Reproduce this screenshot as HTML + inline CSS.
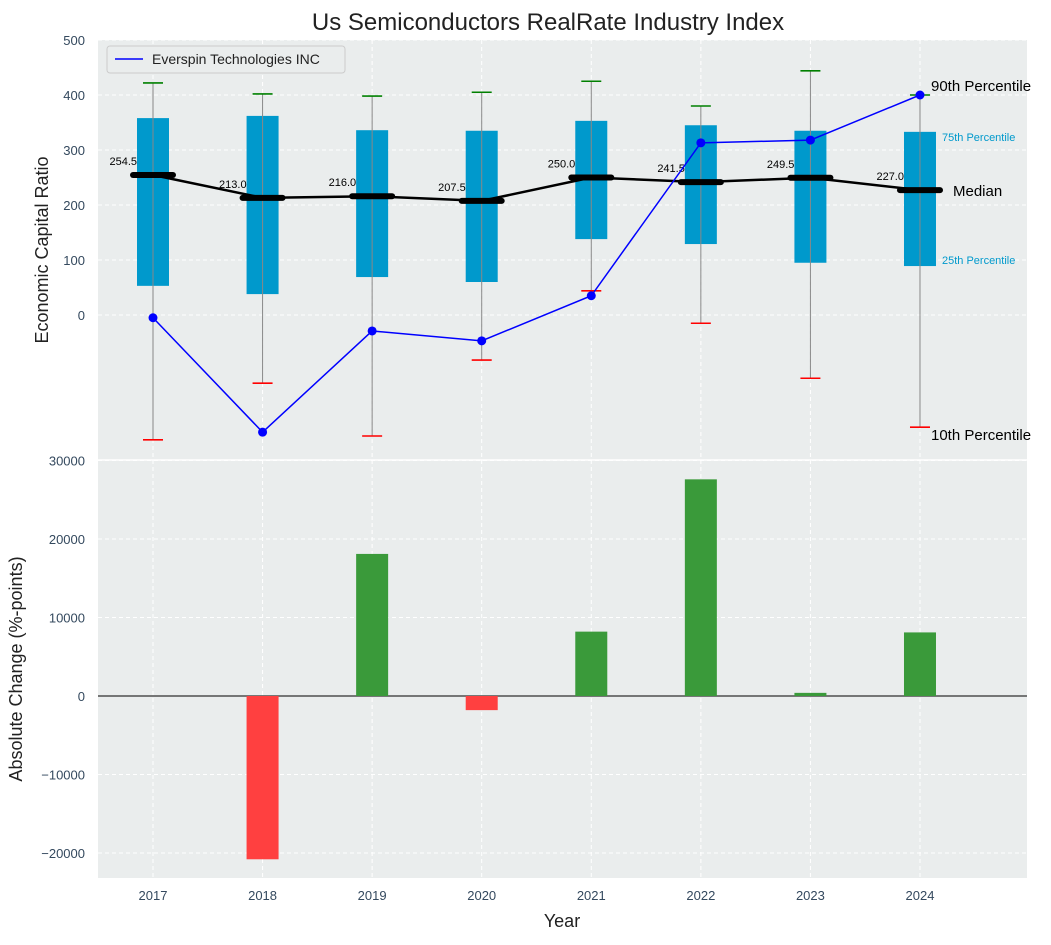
<!DOCTYPE html>
<html><head><meta charset="utf-8"><style>
body{margin:0;background:#fff;font-family:"Liberation Sans",sans-serif}
svg text{font-family:"Liberation Sans",sans-serif}
</style></head><body>
<svg id="c" width="1051" height="940"></svg>
<script>
const years=[2017,2018,2019,2020,2021,2022,2023,2024];
const p10=[-227,-124,-220,-82,44,-15,-115,-204];
const p25=[53,38,69,60,138,129,95,89];
const medians=[254.5,213.0,216.0,207.5,250.0,241.5,249.5,227.0];
const p75=[358,362,336,335,353,345,335,333];
const p90=[422,402,398,405,425,380,444,400];
const company=[-5,-213,-29,-47,35,313,318,400];
const changes=[0,-20800,18100,-1800,8200,27600,400,8100];
const topTicks=[0,100,200,300,400,500];
const botTicks=[-20000,-10000,0,10000,20000,30000];

const NS="http://www.w3.org/2000/svg";
const svg=document.getElementById('c');
function el(tag,attrs,parent,txt){const e=document.createElementNS(NS,tag);for(const k in attrs)e.setAttribute(k,attrs[k]);if(txt!==undefined)e.textContent=txt;(parent||svg).appendChild(e);return e;}
const L=98,R=1027,T1=40,B1=460,T2=460,B2=878;
const xs=y=>153+(y-2017)*109.57;
const y1=v=>315-v*0.55;
const y2=v=>696-v*0.00785;

let g;
g=el('rect',{x:L,y:T1,width:R-L,height:B2-T1,fill:'#eaeded'});

const grid=el('g',{stroke:'#fff','stroke-dasharray':'4,3','stroke-width':1});

years.forEach(y=>el('line',{x1:xs(y),x2:xs(y),y1:T1,y2:B2},grid));
topTicks.forEach(t=>el('line',{x1:L,x2:R,y1:y1(t),y2:y1(t)},grid));
botTicks.forEach(t=>el('line',{x1:L,x2:R,y1:y2(t),y2:y2(t)},grid));
el('line',{x1:L,x2:R,y1:460,y2:460,stroke:'#fff','stroke-width':1.5});
const tl=el('g',{fill:'#34495e','font-size':13});

topTicks.forEach(t=>el('text',{x:L-13,y:y1(t)+5,'text-anchor':'end'},tl,t));
botTicks.forEach(t=>el('text',{x:L-13,y:y2(t)+5,'text-anchor':'end'},tl,t<0?'\u2212'+(-t):t));
years.forEach(y=>el('text',{x:xs(y),y:900,'text-anchor':'middle'},tl,y));
years.forEach((y,i)=>{
  const x=xs(y),bg=el('g',{});
  
  el('rect',{x:x-16,y:y1(p75[i]),width:32,height:y1(p25[i])-y1(p75[i]),fill:'#0099cc'},bg);
  el('line',{x1:x,x2:x,y1:y1(p10[i]),y2:y1(p90[i]),stroke:'#888','stroke-width':1},bg);
  el('line',{x1:x-10,x2:x+10,y1:y1(p10[i]),y2:y1(p10[i]),stroke:'red','stroke-width':1.6},bg);
  el('line',{x1:x-10,x2:x+10,y1:y1(p90[i]),y2:y1(p90[i]),stroke:'green','stroke-width':1.6},bg);
});
const ml=el('polyline',{points:years.map((y,i)=>xs(y)+','+y1(medians[i])).join(' '),fill:'none',stroke:'#000','stroke-width':2.5});

years.forEach((y,i)=>{
  const x=xs(y);
  const m=el('line',{x1:x-20,x2:x+20,y1:y1(medians[i]),y2:y1(medians[i]),stroke:'#000','stroke-width':6,'stroke-linecap':'round'});
  
  const t=el('text',{x:x-16,y:y1(medians[i])-10,'text-anchor':'end','font-size':11,fill:'#000'},svg,medians[i].toFixed(1));
  
});
const cl=el('polyline',{points:years.map((y,i)=>xs(y)+','+y1(company[i])).join(' '),fill:'none',stroke:'blue','stroke-width':1.5});

years.forEach((y,i)=>{const c=el('circle',{cx:xs(y),cy:y1(company[i]),r:4.5,fill:'blue'});
});
const lx=xs(2024);
[['90th Percentile',lx+11,y1(p90[7])-4,15,'#000'],['75th Percentile',lx+22,y1(p75[7])+9,11,'#0099cc'],
 ['Median',lx+33,y1(medians[7])+6,15,'#000'],['25th Percentile',lx+22,y1(p25[7])-2,11,'#0099cc'],
 ['10th Percentile',lx+11,y1(p10[7])+13,15,'#000']].forEach(a=>{
  const t=el('text',{x:a[1],y:a[2],'font-size':a[3],fill:a[4]},svg,a[0]);
  
});
el('line',{x1:L,x2:R,y1:y2(0),y2:y2(0),stroke:'#000','stroke-width':1});
years.forEach((y,i)=>{const v=changes[i];if(!v)return;
  const b=el('rect',{x:xs(y)-16,y:Math.min(y2(v),y2(0)),width:32,height:Math.abs(y2(v)-y2(0)),fill:v>0?'#3a9a3a':'#ff4040'});
  });
let t=el('text',{x:548,y:30,'text-anchor':'middle','font-size':24,fill:'#222'},svg,'Us Semiconductors RealRate Industry Index');

t=el('text',{x:48,y:250,'text-anchor':'middle','font-size':18,fill:'#222',transform:'rotate(-90 48 250)'},svg,'Economic Capital Ratio');

t=el('text',{x:22,y:669,'text-anchor':'middle','font-size':18,fill:'#222',transform:'rotate(-90 22 669)'},svg,'Absolute Change (%-points)');

t=el('text',{x:562,y:927,'text-anchor':'middle','font-size':18,fill:'#222'},svg,'Year');

const lg=el('g',{});
el('rect',{x:107,y:46,width:238,height:27,rx:3,fill:'#eaeded',stroke:'#ccc'},lg);
el('line',{x1:115,x2:143,y1:59,y2:59,stroke:'blue','stroke-width':1.5},lg);
el('text',{x:152,y:64,'font-size':14,fill:'#222'},lg,'Everspin Technologies INC');
</script>
</body></html>
